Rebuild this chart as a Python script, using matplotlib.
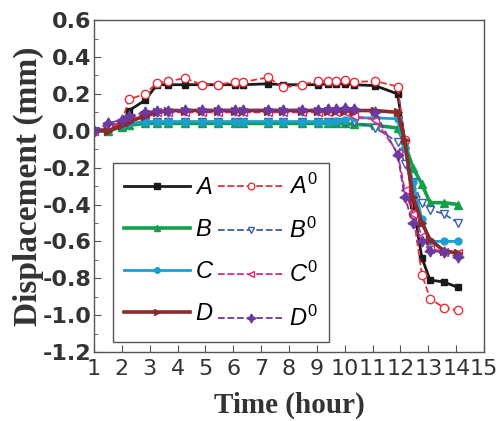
import matplotlib
matplotlib.use("Agg")
import matplotlib.pyplot as plt
from matplotlib.ticker import MultipleLocator, FormatStrFormatter

plt.rcParams['axes.unicode_minus'] = False
plt.rcParams['mathtext.fontset'] = 'custom'
plt.rcParams['mathtext.it'] = 'Liberation Sans:italic'
plt.rcParams['mathtext.rm'] = 'Liberation Sans'

time = [1.0, 1.5, 2.0, 2.26, 2.83, 3.26, 3.66, 4.27, 4.88, 5.45, 6.06, 6.36, 7.25, 7.8,
        8.47, 9.04, 9.4, 9.7, 10.0, 10.33, 11.09, 11.9, 12.15, 12.45, 12.77, 13.06, 13.55, 14.07]

A  = [0.0, 0.01, 0.03, 0.11, 0.165, 0.25, 0.25, 0.25, 0.25, 0.25, 0.25, 0.25, 0.255, 0.25,
      0.25, 0.25, 0.255, 0.255, 0.255, 0.25, 0.245, 0.20, -0.05, -0.40, -0.69, -0.81, -0.82, -0.85]
A0 = [0.0, 0.01, 0.05, 0.17, 0.20, 0.26, 0.27, 0.285, 0.25, 0.25, 0.265, 0.265, 0.29, 0.235,
      0.25, 0.27, 0.27, 0.27, 0.275, 0.265, 0.27, 0.24, -0.05, -0.45, -0.78, -0.91, -0.96, -0.975]
B  = [0.0, 0.0, 0.02, 0.03, 0.04, 0.04, 0.04, 0.04, 0.04, 0.04, 0.04, 0.04, 0.04, 0.04,
      0.04, 0.04, 0.04, 0.04, 0.04, 0.035, 0.03, 0.015, -0.07, -0.20, -0.29, -0.39, -0.39, -0.40]
B0 = [0.0, 0.01, 0.03, 0.04, 0.05, 0.05, 0.05, 0.05, 0.05, 0.05, 0.05, 0.05, 0.05, 0.05,
      0.05, 0.05, 0.05, 0.05, 0.05, 0.05, 0.015, -0.06, -0.18, -0.28, -0.39, -0.43, -0.45, -0.50]
C  = [0.0, 0.01, 0.03, 0.04, 0.05, 0.05, 0.05, 0.05, 0.05, 0.05, 0.05, 0.05, 0.05, 0.05,
      0.05, 0.05, 0.05, 0.055, 0.06, 0.07, 0.07, 0.065, -0.10, -0.28, -0.48, -0.60, -0.60, -0.60]
C0 = [0.0, 0.02, 0.05, 0.07, 0.09, 0.10, 0.10, 0.10, 0.10, 0.10, 0.10, 0.10, 0.10, 0.10,
      0.10, 0.10, 0.10, 0.10, 0.10, 0.08, 0.06, -0.12, -0.32, -0.45, -0.57, -0.64, -0.655, -0.665]
D  = [0.0, 0.0, 0.03, 0.05, 0.08, 0.10, 0.11, 0.11, 0.11, 0.11, 0.11, 0.11, 0.11, 0.11,
      0.11, 0.11, 0.11, 0.11, 0.11, 0.11, 0.11, 0.10, -0.05, -0.36, -0.50, -0.59, -0.65, -0.665]
D0 = [0.0, 0.04, 0.06, 0.08, 0.10, 0.11, 0.11, 0.115, 0.115, 0.115, 0.115, 0.115, 0.115, 0.115,
      0.115, 0.115, 0.12, 0.12, 0.125, 0.12, 0.10, -0.13, -0.36, -0.50, -0.60, -0.65, -0.66, -0.685]

fig = plt.figure(figsize=(4.97, 4.21), dpi=100)
ax = fig.add_axes([0.189, 0.164, 0.785, 0.788])

ax.plot(time, A, color='#1a1a1a', lw=2.0, marker='s', ms=5, label='$A$')
ax.plot(time, A0, color='#e8303a', lw=1.3, ls='--', marker='o', ms=6, mfc='white', mew=1.0, label='$A^{\\mathit{0}}$')
ax.plot(time, B, color='#12a04a', lw=2.6, marker='^', ms=6, label='$B$')
ax.plot(time, B0, color='#3b5fb0', lw=1.3, ls='--', marker='v', ms=6, mfc='white', mew=1.0, label='$B^{\\mathit{0}}$')
ax.plot(time, C, color='#1aa0d0', lw=2.0, marker='o', ms=5, label='$C$')
ax.plot(time, C0, color='#e0287a', lw=1.3, ls='--', marker='<', ms=6, mfc='white', mew=1.0, label='$C^{\\mathit{0}}$')
ax.plot(time, D, color='#8a2a2a', lw=2.6, marker='>', ms=6, label='$D$')
ax.plot(time, D0, color='#6a3a9e', lw=1.3, ls='--', marker=(4, 1, 0), ms=8, label='$D^{\\mathit{0}}$')

ax.set_xlim(1, 15)
ax.set_ylim(-1.2, 0.6)
ax.xaxis.set_major_locator(MultipleLocator(1))
ax.yaxis.set_major_locator(MultipleLocator(0.2))
ax.yaxis.set_minor_locator(MultipleLocator(0.1))
ax.yaxis.set_major_formatter(FormatStrFormatter('%.1f'))
ax.tick_params(axis='both', which='both', direction='in', top=False, right=False, color='#555555')
ax.tick_params(axis='both', which='major', length=5)
ax.tick_params(axis='y', which='minor', length=3)
ax.tick_params(axis='x', pad=5)
ax.tick_params(axis='y', pad=2)
for lab in ax.get_yticklabels():
    lab.set_fontfamily('DejaVu Sans')
    lab.set_fontweight('bold')
    lab.set_fontsize(16)
    lab.set_color('#333333')
    lab.set_verticalalignment('center_baseline')
for lab in ax.get_xticklabels():
    lab.set_fontfamily('DejaVu Sans')
    lab.set_fontsize(16)
    lab.set_color('#333333')
for s in ax.spines.values():
    s.set_color('#555555')
    s.set_linewidth(1.0)

ax.set_xlabel('Time (hour)', fontfamily='Liberation Serif', fontweight='bold', fontsize=21,
              color='#333333', labelpad=9)
ax.set_ylabel('Displacement (mm)', fontfamily='Liberation Serif', fontweight='bold', fontsize=24,
              color='#333333')
ax.yaxis.set_label_coords(-0.128, 0.5)

handles, labels = ax.get_legend_handles_labels()
order = [0, 2, 4, 6, 1, 3, 5, 7]
leg = ax.legend([handles[i] for i in order], [labels[i] for i in order], ncol=2,
                loc='lower left', bbox_to_anchor=(0.049, 0.03), borderaxespad=0,
                prop={'family': 'Liberation Sans', 'style': 'italic', 'size': 17},
                handlelength=2.8, handletextpad=0.2, columnspacing=0.2, labelspacing=0.8,
                borderpad=0.45, fancybox=False, framealpha=1, edgecolor='#555555',
                markerscale=0.8)
leg.get_frame().set_linewidth(1.0)

fig.savefig('out.png', dpi=100)
